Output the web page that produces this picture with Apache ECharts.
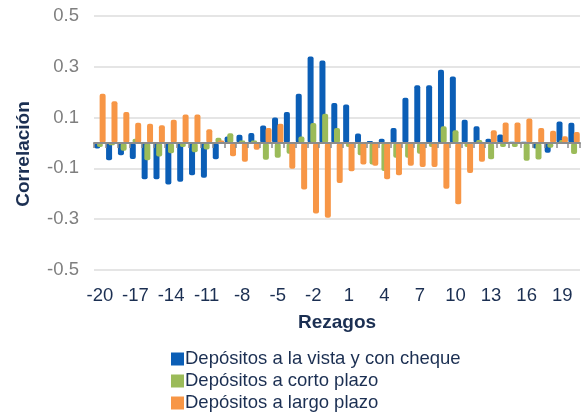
<!DOCTYPE html>
<html>
<head>
<meta charset="utf-8">
<script src="https://cdn.jsdelivr.net/npm/echarts@6/dist/echarts.min.js"></script>
<style>
  html, body { margin: 0; padding: 0; background: #ffffff; }
  #chart { width: 581px; height: 415px; }
</style>
</head>
<body>
<div id="chart"></div>
<script>
// Lags (rezagos) from -20 to 20
const lags = [-20, -19, -18, -17, -16, -15, -14, -13, -12, -11, -10, -9, -8, -7, -6, -5, -4, -3, -2, -1,
  0, 1, 2, 3, 4, 5, 6, 7, 8, 9, 10, 11, 12, 13, 14, 15, 16, 17, 18, 19, 20];

// Cross-correlations by lag for each deposit type
const vistaCheque = [-0.022, -0.068, -0.048, -0.063, -0.143, -0.143, -0.163, -0.153, -0.127, -0.137,
  -0.064, 0.026, 0.032, 0.039, 0.069, 0.100, 0.122, 0.194, 0.341, 0.325,
  0.157, 0.152, 0.037, 0.008, 0.017, 0.059, 0.178, 0.227, 0.227, 0.288,
  0.262, 0.092, 0.066, 0.017, 0.033, 0.005, 0.005, -0.022, -0.038, 0.085, 0.080];

const cortoPlazo = [-0.016, -0.009, -0.031, 0.017, -0.068, -0.053, -0.040, -0.016, -0.036, -0.026,
  0.021, 0.038, 0.010, 0.010, -0.066, -0.058, -0.042, 0.026, 0.079, 0.115,
  0.059, -0.016, -0.048, -0.085, -0.110, -0.058, -0.058, -0.042, -0.016, 0.066,
  0.050, -0.016, 0.012, -0.064, -0.016, -0.016, -0.070, -0.065, -0.019, 0.012, -0.043];

const largoPlazo = [0.194, 0.164, 0.122, 0.080, 0.076, 0.070, 0.092, 0.112, 0.112, 0.054,
  0.010, -0.052, -0.074, -0.027, 0.059, 0.076, -0.101, -0.183, -0.278, -0.294,
  -0.157, -0.111, -0.085, -0.090, -0.143, -0.127, -0.090, -0.094, -0.094, -0.180,
  -0.241, -0.118, -0.074, 0.050, 0.081, 0.081, 0.096, 0.059, 0.048, 0.027, 0.043];

const seriesNames = ['Depósitos a la vista y con cheque', 'Depósitos a corto plazo', 'Depósitos a largo plazo'];
const seriesColors = ['#0b5eb6', '#9bbb59', '#f79646'];

const FONT = '"Liberation Sans", Arial, sans-serif';
const NAVY = '#1b2f52';

const chart = echarts.init(document.getElementById('chart'), null, { renderer: 'canvas' });

const barStyle = (i) => ({
  type: 'bar',
  name: seriesNames[i],
  xAxisIndex: 0,
  yAxisIndex: 0,
  barWidth: 6,
  barGap: '-55%',
  itemStyle: { color: seriesColors[i], borderRadius: 2 },
  emphasis: { disabled: true },
  animation: false
});

chart.setOption({
  animation: false,
  textStyle: { fontFamily: FONT },
  grid: { left: 94, right: 1, top: 16, bottom: 145, containLabel: false },
  legend: {
    orient: 'vertical',
    left: 171,
    top: 349,
    padding: 0,
    height: 66,
    icon: 'rect',
    itemWidth: 13,
    itemHeight: 13,
    itemGap: 2,
    selectedMode: false,
    textStyle: { color: NAVY, fontSize: 18.5, fontFamily: FONT, lineHeight: 20, padding: [0, 0, 0, -4] },
    data: seriesNames
  },
  xAxis: [
    {
      type: 'category',
      data: lags,
      position: 'bottom',
      axisLine: { show: false, onZero: false },
      axisTick: { show: false },
      axisLabel: { interval: 2, color: NAVY, fontSize: 18.5, margin: 16, fontFamily: FONT },
      splitLine: { show: false },
      name: 'Rezagos',
      nameLocation: 'middle',
      nameGap: 43,
      nameTextStyle: { color: NAVY, fontSize: 19, fontWeight: 'bold', fontFamily: FONT }
    },
    {
      type: 'category',
      data: lags,
      position: 'top',
      z: 10,
      axisLine: { show: true, onZero: true, lineStyle: { color: '#8c8c8c', width: 2 } },
      axisTick: { show: true, inside: true, length: 5, interval: 0, lineStyle: { color: '#8c8c8c', width: 1.5 } },
      axisLabel: { show: false },
      splitLine: { show: false }
    }
  ],
  yAxis: {
    type: 'value',
    min: -0.5,
    max: 0.5,
    interval: 0.2,
    axisLine: { show: false },
    axisTick: { show: false },
    axisLabel: {
      color: '#7f7f7f',
      fontSize: 18.5,
      margin: 15,
      fontFamily: FONT,
      formatter: (v) => v.toFixed(1)
    },
    splitLine: { show: true, lineStyle: { color: '#dcdcdc', width: 1.5 } },
    name: 'Correlación',
    nameLocation: 'middle',
    nameGap: 61,
    nameTextStyle: { color: NAVY, fontSize: 19, fontWeight: 'bold', fontFamily: FONT, padding: [0, 22, 0, 0] }
  },
  series: [
    Object.assign(barStyle(0), { data: vistaCheque }),
    Object.assign(barStyle(1), { data: cortoPlazo }),
    Object.assign(barStyle(2), { data: largoPlazo })
  ]
});
</script>
</body>
</html>
